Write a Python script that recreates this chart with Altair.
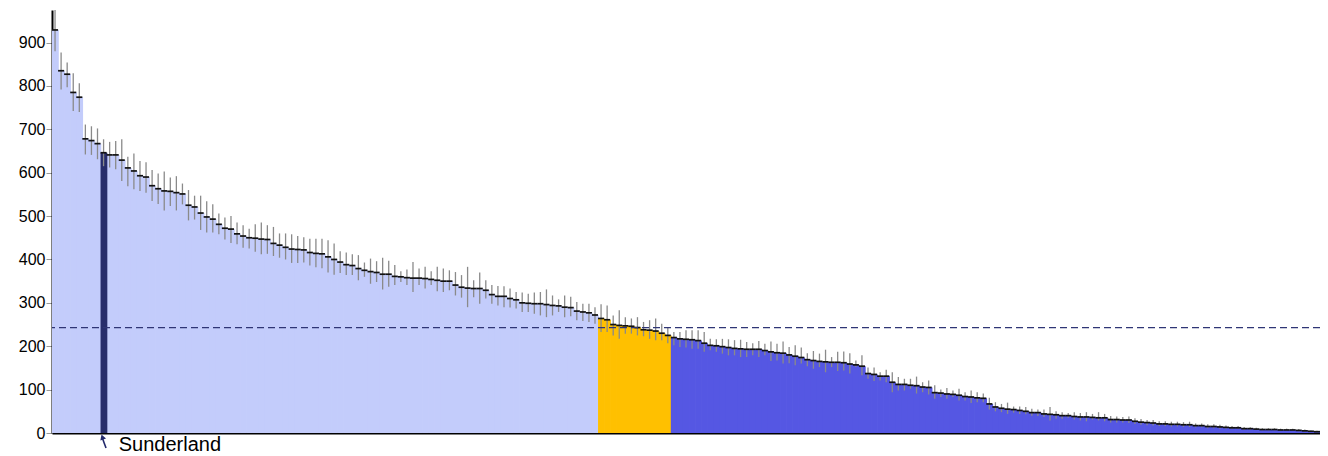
import altair as alt
import pandas as pd

# Rates per area, sorted descending
VALUES = [
    929, 835, 827, 785, 774, 678, 674, 667, 646, 641,
    641, 629, 611, 604, 593, 590, 570, 563, 558, 557,
    554, 551, 525, 521, 507, 498, 493, 481, 472, 470,
    459, 454, 450, 449, 447, 446, 437, 433, 428, 424,
    423, 422, 416, 414, 413, 406, 400, 394, 388, 386,
    379, 375, 372, 370, 366, 366, 361, 360, 358, 357,
    357, 356, 354, 352, 350, 350, 341, 336, 334, 333,
    333, 329, 319, 315, 315, 310, 307, 300, 299, 298,
    298, 296, 294, 293, 290, 289, 281, 279, 277, 272,
    264, 261, 250, 248, 247, 246, 243, 238, 237, 235,
    230, 225, 220, 217, 216, 215, 213, 207, 202, 201,
    199, 197, 195, 194, 193, 193, 193, 190, 187, 185,
    184, 180, 177, 174, 169, 167, 165, 164, 163, 163,
    162, 159, 157, 154, 137, 135, 131, 131, 117, 112,
    112, 110, 109, 106, 105, 93, 92, 90, 89, 87,
    84, 83, 81, 80, 67, 60, 57, 55, 54, 52,
    50, 47, 47, 44, 43, 42, 40, 40, 38, 37,
    37, 36, 35, 35, 31, 31, 30, 30, 27, 25,
    24, 23, 21, 21, 20, 20, 19, 19, 17, 17,
    15, 15, 14, 13, 12, 12, 10, 10, 9, 8,
    8, 8, 7, 7, 7, 6, 5, 4, 3,
]
UPPER = [
    975, 877, 854, 829, 806, 711, 707, 702, 677, 671,
    673, 677, 637, 644, 627, 624, 606, 598, 603, 589,
    592, 575, 560, 547, 547, 534, 527, 506, 497, 500,
    485, 479, 471, 481, 485, 479, 475, 460, 460, 458,
    454, 451, 448, 448, 448, 444, 437, 419, 416, 412,
    410, 393, 402, 396, 404, 397, 387, 373, 377, 394,
    379, 383, 373, 383, 379, 375, 371, 364, 383, 352,
    370, 352, 341, 339, 338, 333, 325, 324, 321, 324,
    325, 331, 317, 308, 317, 314, 302, 298, 298, 290,
    297, 294, 271, 283, 267, 264, 267, 256, 260, 264,
    252, 244, 233, 233, 237, 237, 237, 233, 217, 216,
    217, 216, 214, 215, 210, 207, 212, 206, 211, 206,
    211, 198, 202, 197, 184, 189, 183, 192, 175, 187,
    188, 184, 167, 179, 151, 151, 140, 146, 140, 129,
    125, 125, 130, 117, 121, 110, 100, 104, 98, 102,
    94, 98, 94, 91, 81, 71, 67, 70, 61, 61,
    60, 56, 54, 54, 60, 50, 48, 46, 48, 46,
    48, 44, 48, 44, 39, 38, 37, 38, 34, 32,
    30, 30, 27, 27, 26, 26, 25, 26, 22, 22,
    20, 20, 19, 17, 16, 16, 14, 13, 12, 11,
    11, 11, 10, 10, 10, 9, 8, 6, 5,
]
LOWER = [
    880, 792, 797, 742, 740, 642, 641, 631, 615, 612,
    608, 581, 569, 562, 558, 554, 535, 528, 513, 523,
    513, 527, 490, 492, 468, 462, 462, 458, 446, 438,
    435, 427, 425, 418, 412, 413, 408, 404, 400, 392,
    392, 393, 386, 382, 380, 370, 365, 369, 364, 364,
    352, 360, 344, 348, 331, 337, 341, 348, 341, 325,
    341, 333, 341, 327, 325, 329, 317, 312, 290, 313,
    298, 310, 298, 294, 290, 289, 287, 279, 279, 275,
    271, 267, 271, 279, 267, 269, 260, 258, 256, 252,
    233, 233, 225, 217, 229, 229, 225, 223, 217, 214,
    214, 207, 202, 198, 197, 194, 194, 187, 191, 187,
    183, 179, 179, 175, 175, 179, 175, 179, 166, 167,
    160, 161, 156, 160, 154, 148, 152, 140, 152, 143,
    144, 137, 152, 133, 125, 120, 121, 117, 94, 98,
    98, 102, 91, 94, 89, 79, 83, 79, 83, 75,
    75, 69, 71, 71, 54, 50, 48, 44, 47, 44,
    43, 40, 39, 37, 29, 33, 33, 35, 31, 29,
    27, 31, 29, 27, 24, 24, 24, 23, 21, 19,
    18, 17, 16, 16, 15, 15, 14, 14, 13, 13,
    11, 11, 10, 10, 9, 9, 7, 7, 7, 6,
    6, 6, 5, 5, 5, 4, 3, 3, 2,
]
AVERAGE = 243
SIMILAR_START = 90   # first area not significantly different (orange)
LOWER_START = 102    # first area significantly lower (dark blue)
HIGHLIGHT_INDEX = 8
HIGHLIGHT_NAME = "Sunderland"

GROUPS = ["higher", "similar", "lower", "highlight"]
COLORS = ["#c3ccfb", "#ffc000", "#5557e3", "#272d6b"]

N = len(VALUES)
rows = []
for i, (v, lo, hi) in enumerate(zip(VALUES, LOWER, UPPER)):
    if i == HIGHLIGHT_INDEX:
        g = "highlight"
    elif i < SIMILAR_START:
        g = "higher"
    elif i < LOWER_START:
        g = "similar"
    else:
        g = "lower"
    rows.append({"x0": i, "x1": i + 1, "x1o": i + 1.12, "xc": i + 0.5,
                 "value": v, "lo": lo, "hi": hi, "grp": g,
                 "order": 1 if g == "highlight" else 0})
df = pd.DataFrame(rows)

xscale = alt.Scale(domain=[0, N], nice=False, zero=False)
yscale = alt.Scale(domain=[0, 975], nice=False)

xaxis = alt.Axis(domainColor="black", domainWidth=2, ticks=False,
                 labels=False, title=None, grid=False)
yaxis = alt.Axis(values=list(range(0, 1000, 100)), domainColor="black",
                 domainWidth=2, tickColor="#999999", tickSize=6, tickWidth=1,
                 labelFont="Liberation Sans", labelFontSize=16,
                 labelColor="black", labelPadding=1, grid=False, title=None)

base = alt.Chart(df)
colscale = alt.Scale(domain=GROUPS, range=COLORS)

bars = base.mark_rect(opacity=1).encode(
    x=alt.X("x0:Q", scale=xscale, axis=xaxis),
    x2="x1o:Q",
    y=alt.Y("value:Q", scale=yscale, axis=yaxis),
    y2=alt.datum(0),
    color=alt.Color("grp:N", scale=colscale, legend=None),
    order=alt.Order("order:Q"),
)

errs = base.mark_rule(color="#8a8a8a", strokeWidth=1.3).encode(
    x="xc:Q", y="lo:Q", y2="hi:Q"
)

ticks = base.mark_rule(color="#111111", strokeWidth=1.7).encode(
    x="x0:Q", x2="x1:Q", y="value:Q"
)

avg = alt.Chart(pd.DataFrame({"avg": [AVERAGE]})).mark_rule(
    color="#2f3575", strokeDash=[7, 4], strokeWidth=1.3
).encode(y="avg:Q")

ann = pd.DataFrame({
    "tip": [HIGHLIGHT_INDEX + 0.3],
    "tail": [HIGHLIGHT_INDEX + 0.9],
    "tx": [HIGHLIGHT_INDEX + 3.0],
    "label": [HIGHLIGHT_NAME],
})
arrow_line = alt.Chart(ann).mark_rule(color="#22296b", strokeWidth=1.6).encode(
    x="tip:Q", x2="tail:Q", y=alt.value(428), y2=alt.value(438)
)
arrow_head = alt.Chart(ann).mark_point(
    shape="triangle-up", filled=True, size=36, angle=341, color="#22296b", opacity=1
).encode(x="tip:Q", y=alt.value(427))
label = alt.Chart(ann).mark_text(
    align="left", baseline="alphabetic", fontSize=20,
    font="Liberation Sans", color="black"
).encode(x="tx:Q", y=alt.value(441), text="label:N")

chart = alt.layer(bars, errs, ticks, avg, arrow_line, arrow_head, label).properties(
    width=1268, height=423,
    autosize=alt.AutoSizeParams(type="none"),
    padding={"left": 44, "top": 2, "right": 0, "bottom": 23},
).configure_view(stroke=None)

chart.save("out.html", embed_options={"renderer": "svg", "actions": False})
